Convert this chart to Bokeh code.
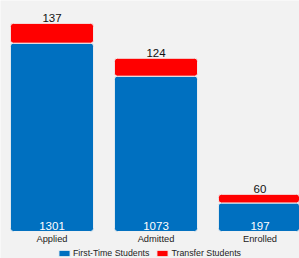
from bokeh.plotting import figure
from bokeh.models import ColumnDataSource, Range1d, Legend, LegendItem
from bokeh.embed import file_html
from bokeh.resources import INLINE
from bokeh.core.properties import value

categories = ["Applied", "Admitted", "Enrolled"]
first_time = [1301, 1073, 197]
transfer = [137, 124, 60]
series_names = ["First-Time Students", "Transfer Students"]
colors = ["#0070c0", "#ff0000"]
bg = "#f2f2f2"
font = value("Liberation Sans")

x = [i + 0.5 for i in range(len(categories))]
totals = [a + b for a, b in zip(first_time, transfer)]
src = ColumnDataSource(dict(
    x=x, ft=first_time, tr=transfer, tot=totals, cat=categories,
    zero=[0] * len(categories),
    ft_lbl=[str(v) for v in first_time],
    tr_lbl=[str(v) for v in transfer],
))

p = figure(width=299, height=258,
           x_range=Range1d(0.005, 2.88), y_range=Range1d(-186.6, 1596),
           output_backend="svg", toolbar_location=None, min_border=0,
           background_fill_color=bg, border_fill_color=bg,
           outline_line_color=None)
p.axis.visible = False
p.grid.visible = False

r1 = p.vbar(x="x", top="ft", bottom=0, width=0.8, source=src,
            fill_color=colors[0], line_color=bg, line_width=1, border_radius=3)
r2 = p.vbar(x="x", top="tot", bottom="ft", width=0.8, source=src,
            fill_color=colors[1], line_color=bg, line_width=1, border_radius=3)

# transfer-student counts above the bars
p.text(x="x", y="tot", text="tr_lbl", source=src, y_offset=-5,
       text_align="center", text_baseline="alphabetic",
       text_font=font, text_font_size="11.5px", text_color="#111111")
# first-time values inside bars
p.text(x="x", y="zero", text="ft_lbl", source=src, y_offset=-5,
       text_align="center", text_baseline="alphabetic",
       text_font=font, text_font_size="11.5px", text_color="white")
# category labels
p.text(x="x", y="zero", text="cat", source=src, y_offset=8,
       text_align="center", text_baseline="alphabetic",
       text_font=font, text_font_size="9.3px", text_color="#222222")

legend = Legend(items=[LegendItem(label=series_names[0], renderers=[r1]),
                       LegendItem(label=series_names[1], renderers=[r2])],
                orientation="horizontal", location=(57, 0),
                border_line_color=None, background_fill_alpha=0,
                label_text_font="Liberation Sans", label_text_font_size="8.8px",
                label_text_color="#222222",
                glyph_width=14, glyph_height=8, label_height=8,
                spacing=6, padding=0, margin=0, label_standoff=2)
p.add_layout(legend)

open("out.html", "w").write(file_html(p, INLINE))
